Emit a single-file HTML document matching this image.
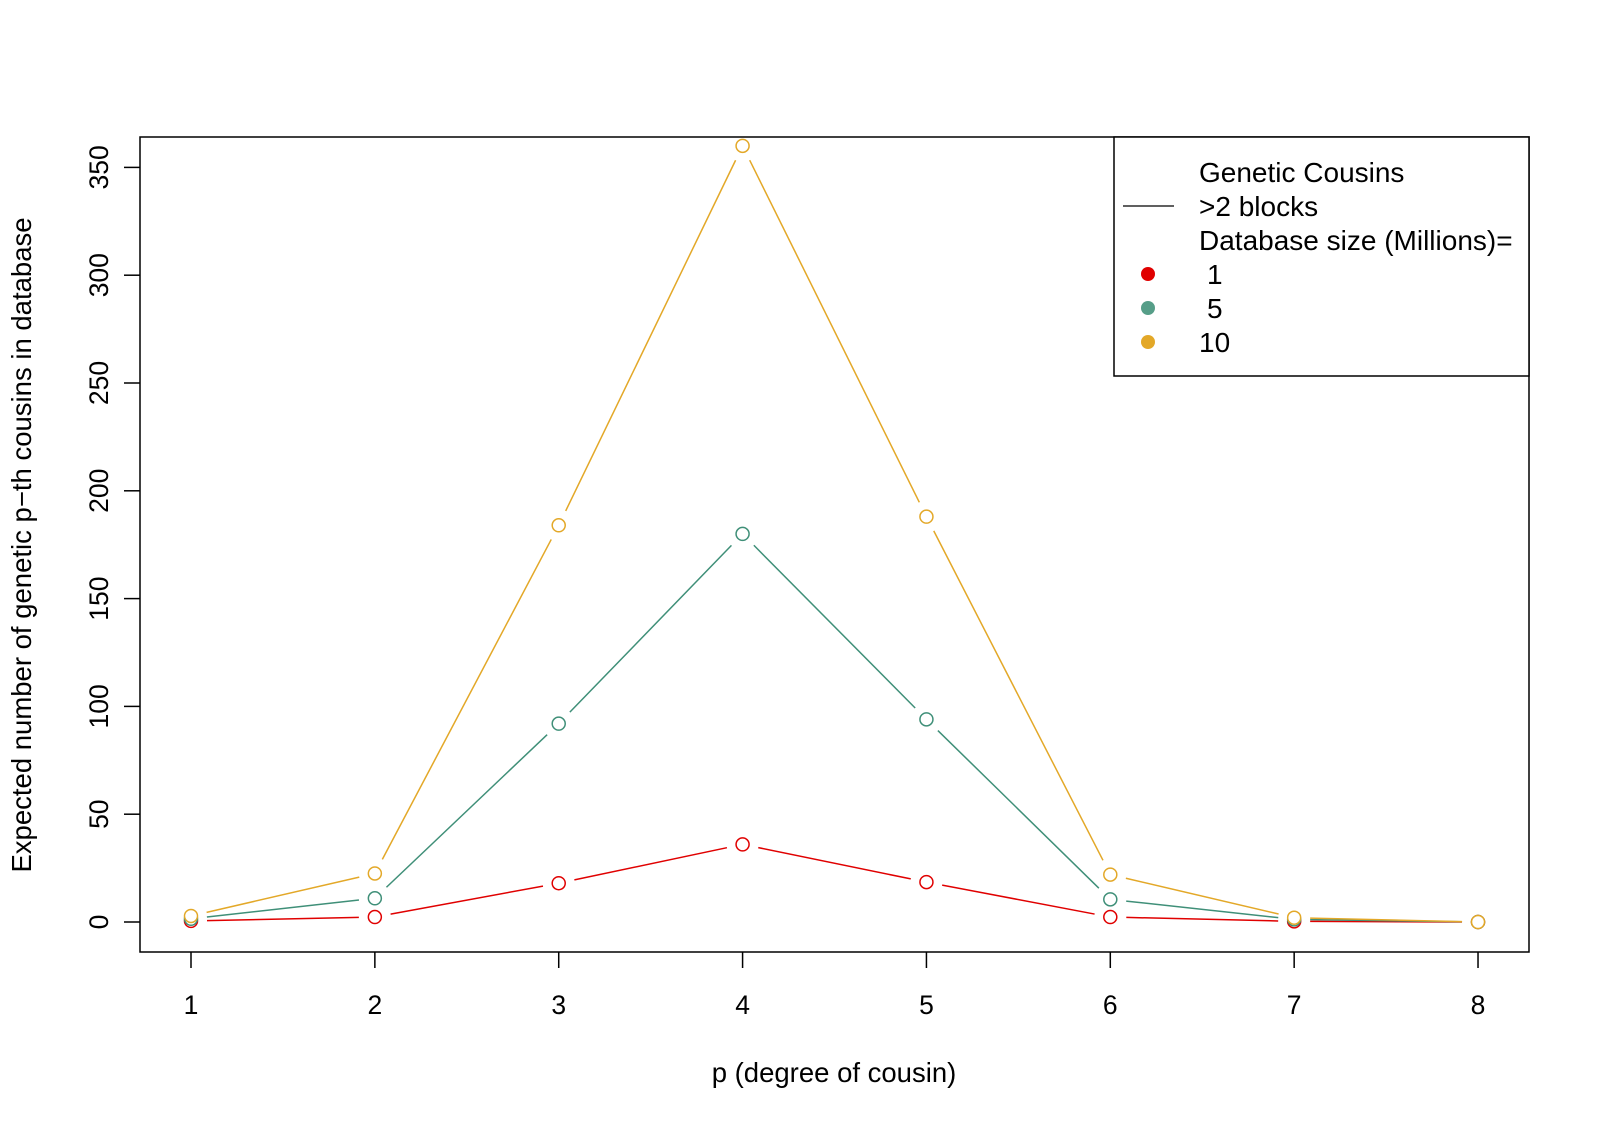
<!DOCTYPE html>
<html><head><meta charset="utf-8"><style>html,body{margin:0;padding:0;background:#fff}</style></head>
<body>
<svg id="s" width="1600" height="1126" xmlns="http://www.w3.org/2000/svg" font-family="Liberation Sans, Arial, sans-serif">
<rect x="140" y="137" width="1389" height="815" fill="none" stroke="#000" stroke-width="1.5"/>
<g id="ax" stroke="#000" stroke-width="1.5"></g>
<g id="lab" font-size="26.5" fill="#000"></g>
<text x="834" y="1082" font-size="27.5" text-anchor="middle">p (degree of cousin)</text>
<text transform="translate(31,545) rotate(-90)" font-size="27.5" text-anchor="middle">Expected number of genetic p−th cousins in database</text>
<g id="ser"></g>
<rect x="1114" y="137" width="415" height="239" fill="#fff" stroke="#000" stroke-width="1.5"/>
<line x1="1123" y1="206" x2="1174" y2="206" stroke="#000" stroke-width="1.3"/>
<g font-size="28">
<text x="1199" y="182">Genetic Cousins</text>
<text x="1199" y="216">&gt;2 blocks</text>
<text x="1199" y="250">Database size (Millions)=</text>
<text x="1207" y="284">1</text>
<text x="1207" y="318">5</text>
<text x="1199" y="352">10</text>
</g>
<circle cx="1148" cy="274" r="7" fill="#e00000"/>
<circle cx="1148" cy="308" r="7" fill="#569e88"/>
<circle cx="1148" cy="342" r="7" fill="#e3a828"/>
</svg>
<script>
var NS="http://www.w3.org/2000/svg";
function X(p){return 191+(p-1)*183.86}
function Y(v){return 922-v*2.156}
function el(t,a,par){var e=document.createElementNS(NS,t);for(var k in a)e.setAttribute(k,a[k]);document.getElementById(par).appendChild(e);return e}
for(var p=1;p<=8;p++){el("line",{x1:X(p),x2:X(p),y1:952,y2:968},"ax");var t=el("text",{x:X(p),y:1014,"text-anchor":"middle"},"lab");t.textContent=p;}
for(var v=0;v<=350;v+=50){el("line",{x1:124,x2:140,y1:Y(v),y2:Y(v)},"ax");var t=el("text",{transform:"translate(108,"+Y(v)+") rotate(-90)","text-anchor":"middle"},"lab");t.textContent=v;}
var S=[["#e3a828",[2.8,22.5,184,360,188,22,2,0]],["#3f8f78",[1.5,11,92,180,94,10.5,1.2,0]],["#e00000",[0.5,2.3,18,36,18.5,2.3,0.3,0]]];
S.reverse();
S.forEach(function(s){var c=s[0],d=s[1];
for(var i=0;i<7;i++){var x1=X(i+1),y1=Y(d[i]),x2=X(i+2),y2=Y(d[i+1]);var dx=x2-x1,dy=y2-y1,L=Math.sqrt(dx*dx+dy*dy),g=16;if(L>2*g+2){el("line",{x1:x1+dx*g/L,y1:y1+dy*g/L,x2:x2-dx*g/L,y2:y2-dy*g/L,stroke:c,"stroke-width":1.5},"ser");}}
for(var i=0;i<8;i++)el("circle",{cx:X(i+1),cy:Y(d[i]),r:6.5,fill:"#fff",stroke:c,"stroke-width":1.5},"ser");
});
</script>
</body></html>
